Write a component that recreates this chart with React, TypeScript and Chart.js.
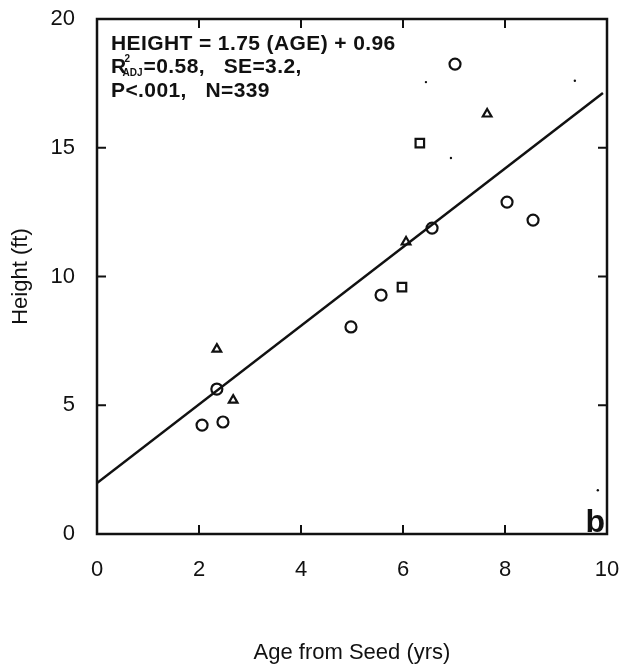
import React, { useEffect, useRef } from "react";
import { Chart, registerables } from "chart.js";

Chart.register(...registerables);

// ---- data ----
const xTicks = [0, 2, 4, 6, 8, 10];
const yTicks = [0, 5, 10, 15, 20];
const innerXTicks = [2, 4, 6, 8];
const innerYTicks = [5, 10, 15];

const circlePts = [
  { x: 2.06, y: 4.23 },
  { x: 2.35, y: 5.63 },
  { x: 2.47, y: 4.35 },
  { x: 4.98, y: 8.04 },
  { x: 5.57, y: 9.28 },
  { x: 6.57, y: 11.88 },
  { x: 7.02, y: 18.25 },
  { x: 8.04, y: 12.89 },
  { x: 8.55, y: 12.19 },
];
const trianglePts = [
  { x: 2.35, y: 7.18 },
  { x: 2.67, y: 5.2 },
  { x: 6.06, y: 11.34 },
  { x: 7.65, y: 16.31 },
];
const squarePts = [
  { x: 5.98, y: 9.59 },
  { x: 6.33, y: 15.18 },
];
const speckPts = [
  { x: 6.94, y: 14.6 },
  { x: 9.37, y: 17.6 },
  { x: 9.82, y: 1.7 },
  { x: 6.45, y: 17.55 },
];
const fitLine = [
  { x: 0, y: 1.98 },
  { x: 9.92, y: 17.13 },
];

const eqLine1 = "HEIGHT = 1.75 (AGE) + 0.96";
const eqLine2a = "R";
const eqSup = "2";
const eqSub = "ADJ";
const eqLine2b = "=0.58,   SE=3.2,";
const eqLine3 = "P<.001,   N=339";
const panelLabel = "b";
const xTitle = "Age from Seed (yrs)";
const yTitle = "Height (ft)";

const INK = "#111";
const FONT = "'Liberation Sans', Arial, Helvetica, sans-serif";

const framePlugin = {
  id: "frame",
  afterDraw(chart: any) {
    const { ctx, chartArea } = chart;
    const { left, right, top, bottom } = chartArea;
    const xs = chart.scales.x;
    const ys = chart.scales.y;
    ctx.save();
    ctx.strokeStyle = INK;
    ctx.lineWidth = 2.5;
    ctx.strokeRect(left, top, right - left, bottom - top);
    ctx.lineWidth = 2;
    const tl = 9;
    ctx.beginPath();
    for (const v of innerXTicks) {
      const px = xs.getPixelForValue(v);
      ctx.moveTo(px, bottom);
      ctx.lineTo(px, bottom - tl);
      ctx.moveTo(px, top);
      ctx.lineTo(px, top + tl);
    }
    for (const v of innerYTicks) {
      const py = ys.getPixelForValue(v);
      ctx.moveTo(left, py);
      ctx.lineTo(left + tl, py);
      ctx.moveTo(right, py);
      ctx.lineTo(right - tl, py);
    }
    ctx.stroke();

    // equation text
    ctx.fillStyle = INK;
    ctx.textBaseline = "alphabetic";
    ctx.textAlign = "left";
    const tx = left + 14;
    try { (ctx as any).letterSpacing = "0.4px"; } catch (e) {}
    ctx.font = `bold 21px ${FONT}`;
    ctx.fillText(eqLine1, tx, top + 31);
    ctx.fillText(eqLine2a, tx, top + 54);
    const rw = ctx.measureText(eqLine2a).width;
    try { (ctx as any).letterSpacing = "0px"; } catch (e) {}
    ctx.font = `bold 10px ${FONT}`;
    ctx.fillText(eqSup, tx + rw - 2, top + 43);
    ctx.fillText(eqSub, tx + rw - 4, top + 57);
    const sw = ctx.measureText(eqSub).width;
    try { (ctx as any).letterSpacing = "0.4px"; } catch (e) {}
    ctx.font = `bold 21px ${FONT}`;
    ctx.fillText(eqLine2b, tx + rw - 3 + sw, top + 54);
    ctx.fillText(eqLine3, tx, top + 78);
    try { (ctx as any).letterSpacing = "0px"; } catch (e) {}

    // panel label
    ctx.font = `bold 32px ${FONT}`;
    ctx.textAlign = "right";
    ctx.fillText(panelLabel, right - 2, bottom - 2);
    ctx.restore();
  },
};

export default function App() {
  const ref = useRef<HTMLCanvasElement | null>(null);
  useEffect(() => {
    if (!ref.current) return;
    const chart = new Chart(ref.current, {
      type: "scatter",
      data: {
        datasets: [
          {
            type: "line",
            data: fitLine,
            borderColor: INK,
            borderWidth: 2.5,
            pointRadius: 0,
            fill: false,
            tension: 0,
          } as any,
          {
            data: circlePts,
            pointStyle: "circle",
            pointRadius: 5.5,
            borderWidth: 2.2,
            borderColor: INK,
            backgroundColor: "transparent",
          },
          {
            data: trianglePts,
            pointStyle: "triangle",
            pointRadius: 5,
            borderWidth: 2.2,
            borderColor: INK,
            backgroundColor: "transparent",
          },
          {
            data: squarePts,
            pointStyle: "rect",
            pointRadius: 6,
            borderWidth: 2.2,
            borderColor: INK,
            backgroundColor: "transparent",
          },
          {
            data: speckPts,
            pointStyle: "circle",
            pointRadius: 1.2,
            borderWidth: 0,
            backgroundColor: INK,
          },
        ],
      },
      options: {
        responsive: false,
        animation: false,
        devicePixelRatio: 1,
        layout: { padding: { top: 19, right: 21, left: 0, bottom: 0 } },
        plugins: { legend: { display: false }, tooltip: { enabled: false } },
        scales: {
          x: {
            type: "linear",
            min: 0,
            max: 10,
            afterBuildTicks: (s: any) => {
              s.ticks = xTicks.map((v) => ({ value: v }));
            },
            afterFit: (s: any) => {
              s.height = 130;
              s.paddingLeft = 0;
              s.paddingRight = 0;
              s.paddingTop = 0;
              s.paddingBottom = 0;
            },
            grid: { display: false, drawTicks: false },
            border: { display: false },
            ticks: {
              color: INK,
              padding: 23,
              font: { family: FONT, size: 22 },
              maxRotation: 0,
              autoSkip: false,
            },
            title: {
              display: true,
              text: xTitle,
              color: INK,
              font: { family: FONT, size: 22 },
              padding: { top: 0, bottom: -2 },
            },
          },
          y: {
            type: "linear",
            min: 0,
            max: 20,
            afterBuildTicks: (s: any) => {
              s.ticks = yTicks.map((v) => ({ value: v }));
            },
            afterFit: (s: any) => {
              s.width = 97;
              s.paddingLeft = 0;
              s.paddingRight = 0;
              s.paddingTop = 0;
              s.paddingBottom = 0;
            },
            grid: { display: false, drawTicks: false },
            border: { display: false },
            ticks: {
              color: INK,
              padding: 22,
              font: { family: FONT, size: 22 },
              autoSkip: false,
            },
            title: {
              display: true,
              text: yTitle,
              color: INK,
              font: { family: FONT, size: 22 },
              padding: { top: 8, bottom: 0 },
            },
          },
        },
      },
      plugins: [framePlugin],
    });
    return () => chart.destroy();
  }, []);
  return (
    <div
      style={{
        position: "fixed",
        left: 0,
        top: 0,
        width: 628,
        height: 664,
        background: "#fff",
      }}
    >
      <canvas ref={ref} width={628} height={664} style={{ display: "block" }} />
    </div>
  );
}
